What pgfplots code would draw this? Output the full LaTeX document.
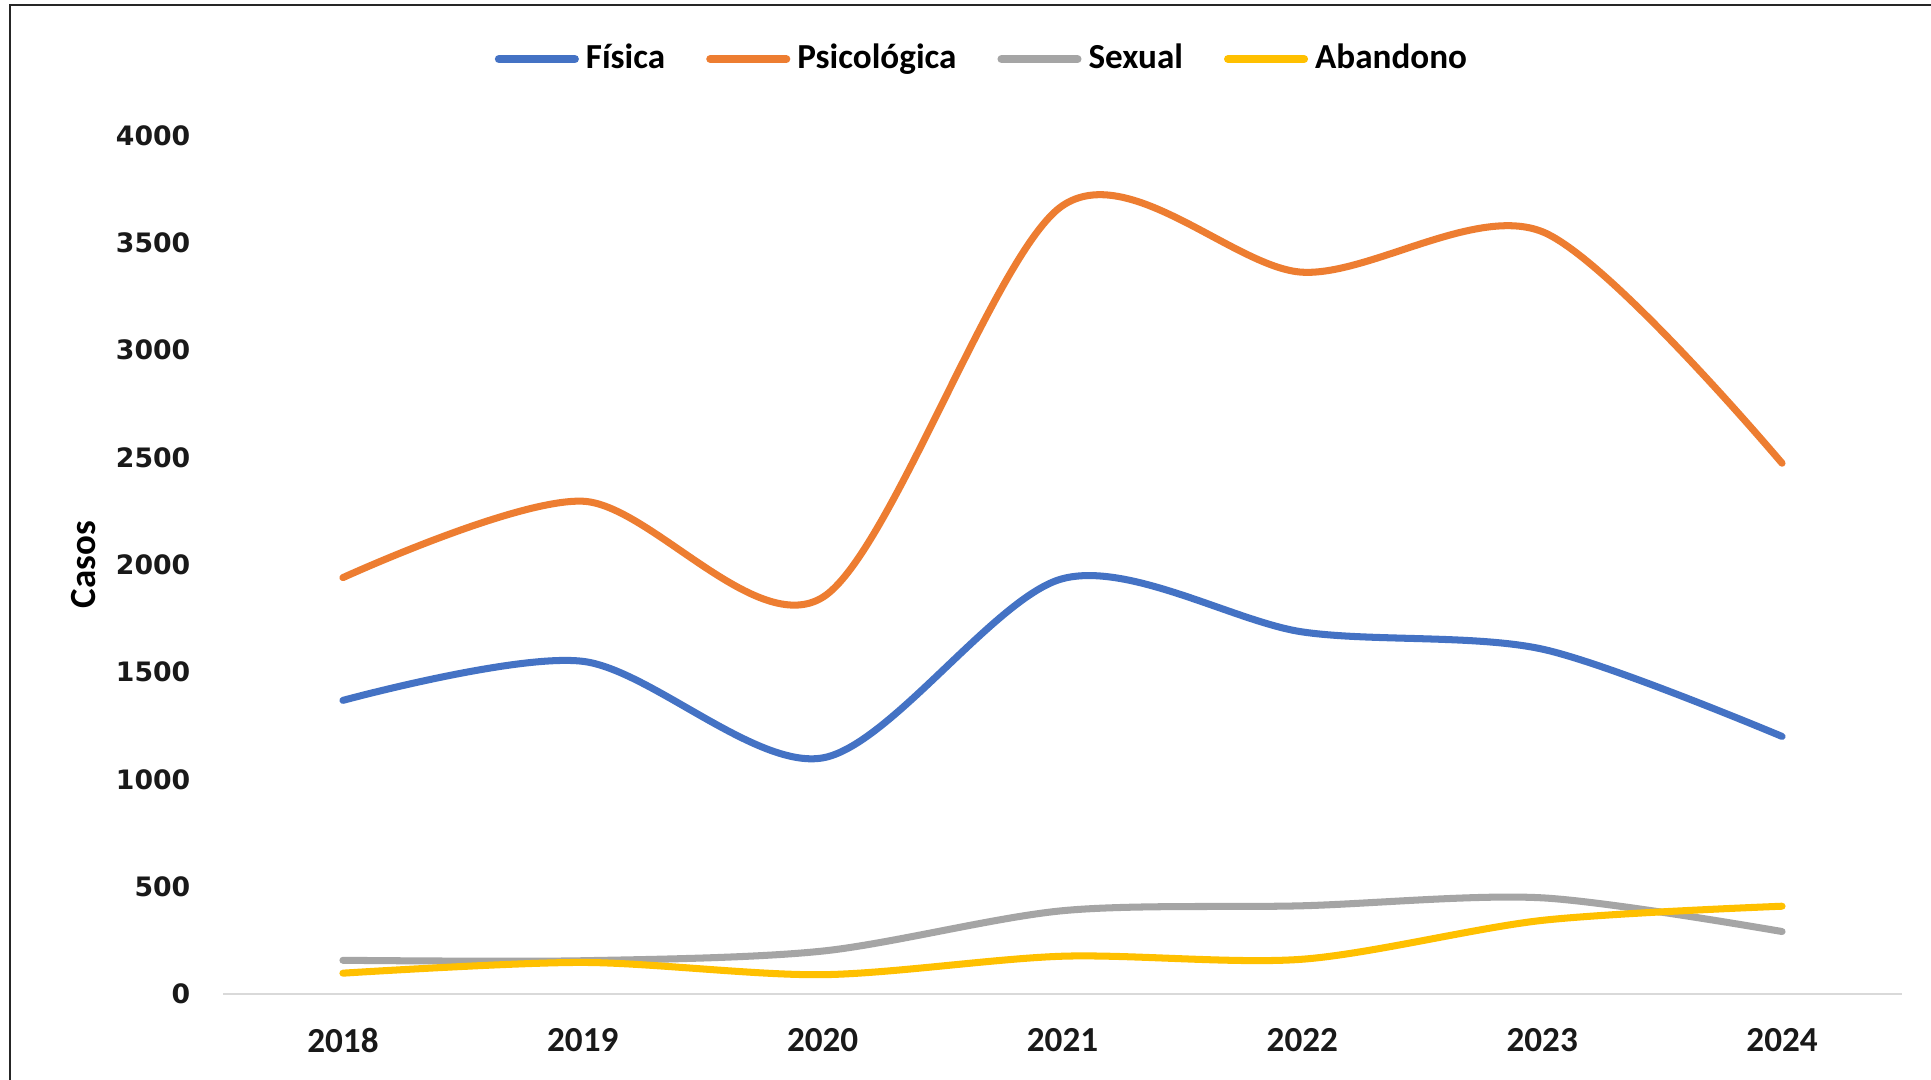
\documentclass[border=0pt]{standalone}
\usepackage{fontspec}
\setmainfont{Carlito}
\newfontfamily\dejavu{DejaVu Sans}
\usepackage{pgfplots}
\pgfplotsset{compat=1.18}
\definecolor{cBlue}{HTML}{4472C4}
\definecolor{cOrange}{HTML}{ED7D31}
\definecolor{cGray}{HTML}{A5A5A5}
\definecolor{cYellow}{HTML}{FFC000}
\begin{document}
\begin{tikzpicture}
\path[use as bounding box, fill=white] (0,0) rectangle (19.31cm,10.8cm);
\draw[line width=0.6pt, black!85] (0.1cm,0) -- (0.1cm,10.75cm) -- (19.31cm,10.75cm);
\begin{axis}[
  at={(2.23cm,0.86cm)}, anchor=south west,
  scale only axis, width=16.79cm, height=8.585cm,
  xmin=2017.5, xmax=2024.5, ymin=0, ymax=4000,
  clip=false,
  separate axis lines,
  axis x line*=bottom, axis y line*=left,
  x axis line style={draw=black!15, line width=0.8pt},
  y axis line style={draw=none},
  major tick length=0pt,
  xtick={2018,2019,2020,2021,2022,2023,2024},
  xticklabels={2018,2019,2020,2021,2022,2023,2024},
  ytick={0,500,1000,1500,2000,2500,3000,3500,4000},
  yticklabels={0,500,1000,1500,2000,2500,3000,3500,4000},
  xticklabel style={font=\bfseries\fontsize{10}{12}\selectfont, anchor=center, inner sep=0pt, yshift=-0.46cm, text=black!90},
  yticklabel style={font=\dejavu\bfseries\fontsize{7.6}{9}\selectfont, anchor=east, inner sep=0pt, xshift=-0.32cm, text=black!90},
  ylabel={Casos},
  ylabel style={at={(axis description cs:-0.0828,0.5)}, anchor=center, rotate=0, font=\bfseries\fontsize{10.5}{12}\selectfont},
  legend columns=4,
  legend style={at={(0.4535,1.089)}, anchor=center, draw=none, fill=none,
    font=\bfseries\fontsize{10}{12}\selectfont,
    /tikz/every even column/.append style={column sep=0.34cm}},
  legend cell align=left,
  legend image code/.code={\draw[#1, line width=2.3pt, line cap=round] (0cm,0cm) -- (0.76cm,0cm);},
]
\addplot[smooth, tension=0.5, color=cBlue, line width=2pt, line cap=round] coordinates {
 (2018,1368) (2019,1550) (2020,1100) (2021,1935) (2022,1687) (2023,1607) (2024,1200)};
\addlegendentry{Física}
\addplot[smooth, tension=0.5, color=cOrange, line width=2pt, line cap=round] coordinates {
 (2018,1940) (2019,2296) (2020,1848) (2021,3673) (2022,3363) (2023,3552) (2024,2473)};
\addlegendentry{Psicológica}
\addplot[smooth, tension=0.5, color=cGray, line width=2pt, line cap=round] coordinates {
 (2018,157) (2019,155) (2020,200) (2021,388) (2022,411) (2023,448) (2024,291)};
\addlegendentry{Sexual}
\addplot[smooth, tension=0.5, color=cYellow, line width=2pt, line cap=round] coordinates {
 (2018,97) (2019,147) (2020,90) (2021,176) (2022,162) (2023,343) (2024,409)};
\addlegendentry{Abandono}
\end{axis}
\end{tikzpicture}
\end{document}
